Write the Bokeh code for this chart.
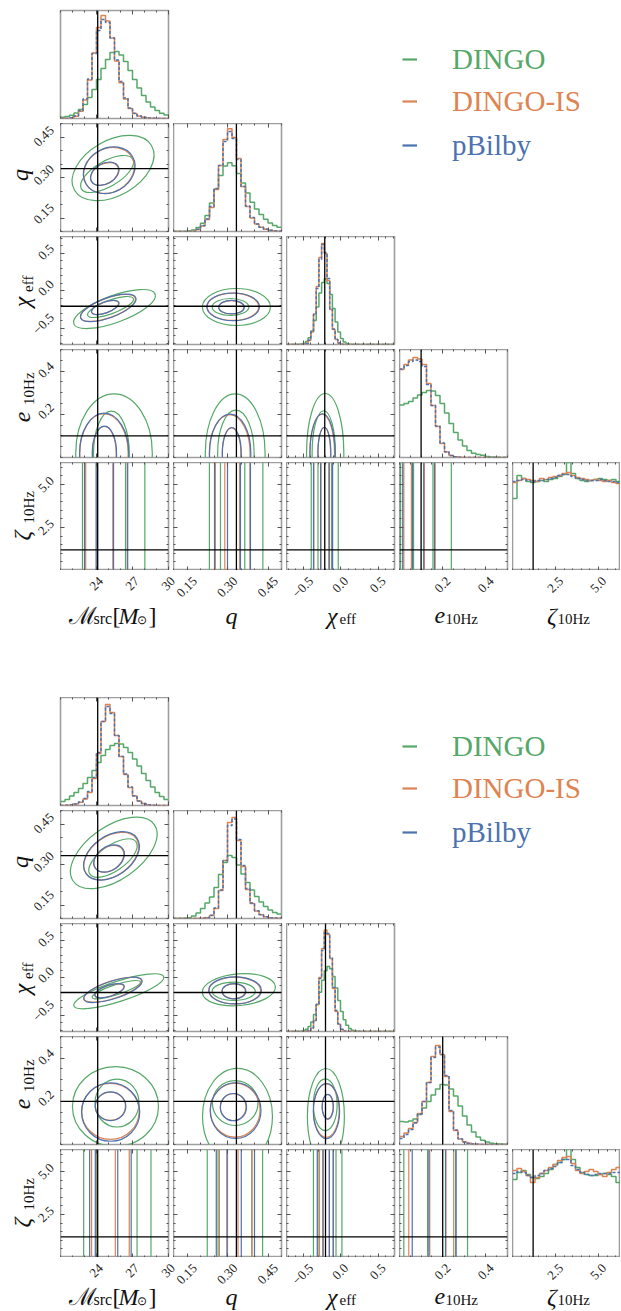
import math
import numpy as np
from bokeh.plotting import figure
from bokeh.layouts import row, column
from bokeh.models import (Range1d, LinearAxis, FixedTicker, Span,
                          Legend, LegendItem, CustomLabelingPolicy)
from bokeh.core.properties import value
from bokeh.embed import file_html
from bokeh.resources import INLINE

TWO_PI = 2 * math.pi

# ---------------- axes / parameters ----------------
PARAM_RANGES = [(21.0, 30.0), (0.10, 0.50), (-0.72, 0.72), (0.0, 0.50), (0.0, TWO_PI)]
MAJOR_TICKS = [[24, 27, 30], [0.15, 0.30, 0.45], [-0.5, 0.0, 0.5], [0.2, 0.4], [2.5, 5.0]]
TICK_TEXT = [["24", "27", "30"], ["0.15", "0.30", "0.45"], ["\u22120.5", "0.0", "0.5"],
             ["0.2", "0.4"], ["2.5", "5.0"]]
MINOR_STEP = [1.0, 0.05, 0.1, 0.05, 0.5]
SERIES = ["DINGO", "DINGO-IS", "pBilby"]
COLORS = ["#55A868", "#DD8452", "#4C72B0"]
HIST_TOP = 108.0

# ---------------- injected values (truths) ----------------
TRUTH_TOP = [24.1, 0.333, -0.21, 0.10, 1.2]
TRUTH_BOTTOM = [24.1, 0.333, -0.20, 0.20, 1.2]

# ---------------- 1D histograms, top corner ----------------
TOP_HIST_M_DINGO = [1.2, 2.0, 3.3, 5.5, 9.0, 14.0, 21.0, 29.0, 39.0, 50.0, 59.0, 66.0, 67.0, 63.5, 57.0, 48.0, 39.0, 30.5, 23.0, 16.5, 11.5, 8.0, 5.2, 3.4]
TOP_HIST_M_IS = [0.0, 0.1, 0.6, 2.3, 7.3, 18.6, 38.6, 65.6, 91.0, 103.0, 97.5, 80.4, 57.5, 35.8, 19.4, 10.0, 5.0, 2.5, 1.2, 0.6, 0.3, 0.1, 0.0, 0.0]
TOP_HIST_M_BILBY = [0.0, 0.1, 0.7, 2.5, 7.8, 19.5, 39.5, 65.0, 88.0, 99.0, 96.0, 80.5, 58.5, 37.0, 20.5, 10.5, 5.2, 2.6, 1.3, 0.6, 0.3, 0.1, 0.0, 0.0]

TOP_HIST_Q_DINGO = [0.0, 0.0, 0.1, 0.4, 1.6, 3.9, 8.2, 15.9, 28.4, 42.4, 56.0, 65.5, 68.7, 65.7, 58.0, 48.6, 38.6, 29.3, 22.6, 17.0, 12.2, 8.6, 6.0, 4.2]
TOP_HIST_Q_IS = [0.0, 0.0, 0.0, 0.0, 0.3, 2.0, 5.5, 12.0, 24.0, 42.0, 66.0, 92.0, 102.7, 94.0, 73.0, 45.0, 25.0, 13.5, 7.5, 4.2, 2.3, 1.2, 0.6, 0.3]
TOP_HIST_Q_BILBY = [0.0, 0.0, 0.0, 0.0, 0.3, 2.2, 6.0, 12.5, 25.0, 43.0, 66.0, 90.0, 100.0, 93.0, 72.0, 45.0, 25.5, 14.0, 7.5, 4.2, 2.3, 1.2, 0.6, 0.3]

TOP_HIST_CHI_DINGO = [0, 0, 0, 0, 0.1, 0.4, 1.1, 2.9, 6.7, 13.5, 24.0, 37.4, 51.6, 62.0, 65.7, 61.0, 50.0, 36.0, 22.6, 12.5,
                      6.1, 2.6, 1.0, 0.3, 0.1, 0, 0, 0, 0, 0, 0, 0, 0, 0, 0, 0, 0, 0, 0, 0]
TOP_HIST_CHI_IS = [0, 0, 0, 0, 0, 0, 0.2, 1.0, 4.0, 12.4, 30.5, 58.0, 87.0, 101.0, 91.0, 64.0, 35.0, 15.0, 5.0, 1.3,
                   0.3, 0, 0, 0, 0, 0, 0, 0, 0, 0, 0, 0, 0, 0, 0, 0, 0, 0, 0, 0]
TOP_HIST_CHI_BILBY = [0, 0, 0, 0, 0, 0, 0.2, 1.1, 4.2, 12.5, 30.0, 56.0, 85.0, 100.0, 92.0, 66.0, 36.0, 15.5, 5.2, 1.4,
                      0.3, 0, 0, 0, 0, 0, 0, 0, 0, 0, 0, 0, 0, 0, 0, 0, 0, 0, 0, 0]

TOP_HIST_E_DINGO = [52.5, 54.0, 56.0, 59.5, 62.5, 65.0, 67.0, 66.5, 62.0, 54.0, 44.5, 34.0, 25.0, 17.5, 11.5, 7.0, 4.2, 3.0, 2.2, 1.0, 0.5, 0.3, 0.1, 0.0]
TOP_HIST_E_IS = [88.0, 93.0, 97.5, 100.0, 98.5, 93.0, 74.0, 52.0, 31.0, 14.0, 5.5, 2.0, 0.7, 0.3, 0.1, 0, 0, 0, 0, 0, 0, 0, 0, 0]
TOP_HIST_E_BILBY = [88.5, 92.0, 96.0, 97.5, 96.0, 91.0, 73.0, 52.0, 31.5, 14.5, 5.8, 2.0, 0.7, 0.3, 0.1, 0, 0, 0, 0, 0, 0, 0, 0, 0]

TOP_HIST_Z_DINGO = [72, 95, 92, 89, 88, 89, 90, 89, 91, 92, 94, 96, 108, 97, 92, 90, 89, 90, 91, 92, 91, 90, 91, 89]
TOP_HIST_Z_IS = [88, 90, 92, 91, 90, 89, 92, 91, 93, 94, 95, 97, 98, 95, 93, 92, 91, 90, 91, 90, 89, 90, 88, 87]
TOP_HIST_Z_BILBY = [89, 90, 91, 90, 89, 90, 90, 91, 92, 93, 95, 96, 96, 94, 92, 91, 90, 90, 90, 91, 90, 89, 89, 88]

# ---------------- 2D credible contours, top corner: (x, y, width, height, angle_deg) ----------------
TOP_MQ_DINGO = [(25.38, 0.335, 7.42, 0.204, 30), (24.88, 0.313, 4.95, 0.094, 30)]
TOP_MQ_IS = [(25.04, 0.326, 4.42, 0.160, 30), (24.67, 0.313, 2.50, 0.074, 30)]
TOP_MQ_BILBY = [(25.06, 0.327, 4.50, 0.163, 30), (24.69, 0.314, 2.55, 0.076, 30)]

TOP_MCHI_DINGO = [(25.50, -0.247, 7.22, 0.360, 20), (25.17, -0.220, 4.06, 0.180, 20)]
TOP_MCHI_IS = [(24.96, -0.233, 4.83, 0.260, 20), (24.71, -0.227, 2.37, 0.143, 20)]
TOP_MCHI_BILBY = [(24.98, -0.232, 4.90, 0.265, 20), (24.73, -0.226, 2.42, 0.146, 20)]

TOP_QCHI_DINGO = [(0.333, -0.220, 0.252, 0.493, 0), (0.311, -0.220, 0.136, 0.227, 0)]
TOP_QCHI_IS = [(0.320, -0.217, 0.191, 0.364, 0), (0.314, -0.223, 0.093, 0.178, 0)]
TOP_QCHI_BILBY = [(0.321, -0.218, 0.195, 0.370, 0), (0.315, -0.222, 0.095, 0.180, 0)]

TOP_ME_DINGO = [(25.46, 0.02, 6.38, 0.550, 0), (25.24, 0.02, 2.98, 0.389, 0)]
TOP_ME_IS = [(24.62, 0.02, 4.03, 0.365, 0), (24.65, 0.02, 1.98, 0.247, 0)]
TOP_ME_BILBY = [(24.64, 0.02, 4.10, 0.370, 0), (24.66, 0.02, 2.02, 0.250, 0)]

TOP_QE_DINGO = [(0.3285, 0.02, 0.2215, 0.550, 0), (0.331, 0.02, 0.135, 0.398, 0)]
TOP_QE_IS = [(0.308, 0.02, 0.151, 0.358, 0), (0.315, 0.02, 0.069, 0.235, 0)]
TOP_QE_BILBY = [(0.310, 0.02, 0.153, 0.362, 0), (0.316, 0.02, 0.070, 0.238, 0)]

TOP_CHIE_DINGO = [(-0.204, 0.02, 0.497, 0.553, 0), (-0.223, 0.02, 0.311, 0.393, 0)]
TOP_CHIE_IS = [(-0.244, 0.02, 0.329, 0.361, 0), (-0.217, 0.02, 0.169, 0.238, 0)]
TOP_CHIE_BILBY = [(-0.240, 0.02, 0.335, 0.365, 0), (-0.215, 0.02, 0.172, 0.240, 0)]

# contour boundaries against the (flat) zeta direction: [outer lo, outer hi, inner lo, inner hi]
TOP_MZ_DINGO = [22.83, 28.03, 24.06, 26.42]
TOP_MZ_IS = [23.10, 26.56, 24.00, 25.36]
TOP_MZ_BILBY = [23.00, 26.60, 23.97, 25.42]
TOP_QZ_DINGO = [0.233, 0.431, 0.274, 0.364]
TOP_QZ_IS = [0.255, 0.383, 0.290, 0.345]
TOP_QZ_BILBY = [0.252, 0.385, 0.300, 0.348]
TOP_CHIZ_DINGO = [-0.39, -0.03, -0.30, -0.12]
TOP_CHIZ_IS = [-0.355, -0.11, -0.26, -0.155]
TOP_CHIZ_BILBY = [-0.36, -0.105, -0.265, -0.150]
TOP_EZ_DINGO = [0.005, 0.240, 0.065, 0.155]
TOP_EZ_IS = [0.020, 0.165, 0.055, 0.115]
TOP_EZ_BILBY = [0.015, 0.162, 0.060, 0.112]

# ---------------- 1D histograms, bottom corner ----------------
BOT_HIST_M_DINGO = [4.0, 6.0, 9.5, 13.0, 17.0, 22.0, 28.0, 35.0, 43.0, 50.0, 56.0, 60.0, 62.0, 61.5, 58.0, 53.0, 46.5, 39.5, 32.0, 25.0, 18.5, 13.0, 9.0, 6.0]
BOT_HIST_M_IS = [0.0, 0.2, 0.6, 1.5, 3.2, 6.5, 13.0, 27.0, 52.0, 84.0, 101.0, 93.0, 70.0, 49.0, 31.0, 18.0, 9.5, 4.5, 2.0, 0.8, 0.3, 0.1, 0.0, 0.0]
BOT_HIST_M_BILBY = [0.0, 0.2, 0.6, 1.6, 3.4, 7.0, 14.0, 28.0, 53.0, 84.0, 99.0, 92.0, 70.0, 49.0, 31.5, 18.5, 9.8, 4.6, 2.0, 0.8, 0.3, 0.1, 0.0, 0.0]

BOT_HIST_Q_DINGO = [0.0, 0.1, 0.3, 0.8, 2.5, 5.5, 10.0, 15.5, 21.5, 31.0, 44.0, 56.0, 63.0, 61.0, 53.5, 44.5, 36.0, 28.5, 22.0, 16.5, 12.0, 8.5, 6.0, 4.5]
BOT_HIST_Q_IS = [0.0, 0.0, 0.0, 0.0, 0.0, 0.0, 0.3, 0.8, 3.0, 10.0, 28.0, 58.0, 96.0, 101.0, 78.0, 52.0, 29.0, 15.0, 7.5, 3.8, 1.8, 0.8, 0.4, 0.2]
BOT_HIST_Q_BILBY = [0.0, 0.0, 0.0, 0.0, 0.0, 0.0, 0.3, 0.9, 3.2, 10.5, 28.5, 58.0, 93.0, 99.5, 79.0, 53.0, 30.0, 15.5, 7.8, 3.9, 1.8, 0.8, 0.4, 0.2]

BOT_HIST_CHI_DINGO = [0, 0, 0, 0, 0.1, 0.35, 0.9, 2.3, 4.9, 9.5, 17.0, 27.0, 39.3, 51.3, 60.7, 65.0, 62.8, 54.9, 43.4, 31.0,
                      20.0, 11.7, 6.2, 2.9, 1.3, 0.5, 0.2, 0, 0, 0, 0, 0, 0, 0, 0, 0, 0, 0, 0, 0]
BOT_HIST_CHI_IS = [0, 0, 0, 0, 0, 0, 0, 0.2, 0.8, 3.4, 10.9, 27.0, 54.0, 83.0, 101.5, 97.0, 73.0, 43.0, 20.0, 7.3,
                   2.1, 0.5, 0.1, 0, 0, 0, 0, 0, 0, 0, 0, 0, 0, 0, 0, 0, 0, 0, 0, 0]
BOT_HIST_CHI_BILBY = [0, 0, 0, 0, 0, 0, 0, 0.2, 0.9, 3.6, 11.0, 27.0, 53.0, 81.0, 99.0, 98.0, 74.0, 44.0, 21.0, 7.8,
                      2.3, 0.6, 0.1, 0, 0, 0, 0, 0, 0, 0, 0, 0, 0, 0, 0, 0, 0, 0, 0, 0]

BOT_HIST_E_DINGO = [23.0, 22.5, 23.5, 25.5, 30.0, 36.5, 43.0, 49.5, 55.5, 60.0, 59.5, 55.5, 48.5, 38.5, 28.5, 19.5, 12.5, 7.5, 4.2, 2.4, 1.3, 0.7, 0.4, 0.2]
BOT_HIST_E_IS = [8.0, 11.5, 16.0, 22.0, 31.0, 43.0, 62.0, 88.0, 99.0, 90.0, 68.0, 33.0, 14.0, 5.5, 2.5, 1.2, 0.5, 0.2, 0.1, 0, 0, 0, 0, 0]
BOT_HIST_E_BILBY = [6.0, 10.0, 15.0, 21.5, 30.5, 43.0, 62.0, 87.0, 97.5, 90.0, 69.0, 34.0, 14.5, 5.7, 2.5, 1.2, 0.5, 0.2, 0.1, 0, 0, 0, 0, 0]

BOT_HIST_Z_DINGO = [78, 85, 87, 83, 80, 79, 81, 84, 88, 93, 95, 98, 109, 98, 90, 85, 83, 82, 82, 83, 84, 83, 81, 75]
BOT_HIST_Z_IS = [87, 89, 86, 82, 75, 80, 84, 87, 90, 93, 97, 100, 101, 94, 87, 84, 86, 88, 86, 83, 81, 85, 88, 90]
BOT_HIST_Z_BILBY = [84, 86, 85, 82, 80, 82, 84, 87, 89, 91, 95, 98, 98, 92, 88, 85, 83, 82, 83, 84, 84, 84, 85, 85]

# ---------------- 2D credible contours, bottom corner ----------------
BOT_MQ_DINGO = [(25.44, 0.343, 8.24, 0.197, 35), (25.375, 0.324, 4.70, 0.094, 35)]
BOT_MQ_IS = [(25.23, 0.331, 5.10, 0.145, 35), (25.03, 0.321, 2.74, 0.085, 35)]
BOT_MQ_BILBY = [(25.25, 0.332, 5.18, 0.148, 35), (25.05, 0.322, 2.80, 0.087, 35)]

BOT_MCHI_DINGO = [(25.86, -0.184, 7.87, 0.270, 18), (25.65, -0.163, 4.23, 0.135, 18)]
BOT_MCHI_IS = [(25.35, -0.163, 5.03, 0.233, 18), (25.07, -0.177, 2.52, 0.146, 18)]
BOT_MCHI_BILBY = [(25.37, -0.165, 5.10, 0.236, 18), (25.09, -0.176, 2.56, 0.148, 18)]

BOT_QCHI_DINGO = [(0.342, -0.163, 0.2715, 0.422, 5), (0.323, -0.184, 0.160, 0.244, 0)]
BOT_QCHI_IS = [(0.327, -0.173, 0.191, 0.356, 0), (0.323, -0.184, 0.0864, 0.200, 0)]
BOT_QCHI_BILBY = [(0.328, -0.172, 0.195, 0.360, 0), (0.324, -0.183, 0.088, 0.204, 0)]

BOT_ME_DINGO = [(25.58, 0.176, 7.17, 0.370, 0), (25.71, 0.192, 3.67, 0.222, 0)]
BOT_ME_IS = [(25.16, 0.153, 4.78, 0.259, 0), (25.16, 0.177, 2.50, 0.130, 0)]
BOT_ME_BILBY = [(25.18, 0.150, 4.85, 0.270, 0), (25.17, 0.177, 2.55, 0.133, 0)]

BOT_QE_DINGO = [(0.337, 0.130, 0.259, 0.444, 0), (0.3285, 0.192, 0.169, 0.208, 0)]
BOT_QE_IS = [(0.3285, 0.159, 0.184, 0.250, 0), (0.321, 0.173, 0.095, 0.124, 0)]
BOT_QE_BILBY = [(0.330, 0.157, 0.188, 0.258, 0), (0.322, 0.173, 0.097, 0.126, 0)]

BOT_CHIE_DINGO = [(-0.195, 0.130, 0.493, 0.444, 0), (-0.203, 0.184, 0.317, 0.239, 0)]
BOT_CHIE_IS = [(-0.189, 0.157, 0.343, 0.247, 0), (-0.171, 0.175, 0.147, 0.113, 0)]
BOT_CHIE_BILBY = [(-0.187, 0.155, 0.350, 0.255, 0), (-0.170, 0.175, 0.150, 0.115, 0)]

BOT_MZ_DINGO = [22.93, 28.54, 24.00, 27.38]
BOT_MZ_IS = [23.59, 26.73, 23.95, 25.57]
BOT_MZ_BILBY = [23.43, 26.89, 23.90, 25.77]
BOT_QZ_DINGO = [0.225, 0.430, 0.265, 0.390]
BOT_QZ_IS = [0.270, 0.391, 0.300, 0.339]
BOT_QZ_BILBY = [0.2585, 0.400, 0.298, 0.351]
BOT_CHIZ_DINGO = [-0.361, 0.019, -0.30, -0.06]
BOT_CHIZ_IS = [-0.28, -0.097, -0.23, -0.15]
BOT_CHIZ_BILBY = [-0.31, -0.097, -0.235, -0.148]
BOT_EZ_DINGO = [0.020, 0.315, 0.130, 0.260]
BOT_EZ_IS = [0.043, 0.251, 0.140, 0.215]
BOT_EZ_BILBY = [0.059, 0.262, 0.136, 0.213]

# ---------------- layout constants (pixels) ----------------
FRAME = 108
GAP = 5
STRIP_W = 60          # left strip: y titles + y tick labels
TOTAL_W = 620
LEGEND_VY = [159, 117, 73]
FONT = "Liberation Serif"
TICK_SIZE = 13
YTICK_RIGHT = 56      # right edge of the y tick labels
XTICK_TOP = 4         # gap between frame bottom and x tick labels
CHAR_W = {".": 0.25, "\u2212": 0.564}

# x titles: (text, page x, baseline shift, size, italic)
XTITLE_PIECES = [
    ("\u2133", 68, 0, 24, False), ("src", 93, -3, 16, False),
    ("[", 112, 0, 24, False), ("M", 118, 0, 24, True),
    ("\u2299", 136, -4, 12, False), ("]", 148, 0, 24, False),
    ("q", 225, 0, 24, True),
    ("\u03c7", 326.5, 0, 24, True), ("eff", 339, -3, 15, False),
    ("e", 434, 0, 24, True), ("10Hz", 445, -3, 15, False),
    ("\u03b6", 546.5, 0, 24, True), ("10Hz", 557, -3, 15, False),
]
# y titles per row, rotated: (text, x of the glyph-box middle, start y above strip bottom, size, italic)
YTITLE_PIECES = {
    1: [("q", 19, 59, 24, True)],
    2: [("\u03c7", 21, 39, 24, True), ("eff", 27, 55, 15, False)],
    3: [("e", 22, 37, 24, True), ("10Hz", 28, 55, 15, False)],
    4: [("\u03b6", 21, 30, 24, True), ("10Hz", 28, 47, 15, False)],
}

HIDE_LABELS_JS = """
try { for (const i of [...indices.ones()]) { indices.unset(i) } } catch (e) {}
return indices
"""


def minor_ticks(c):
    lo, hi = PARAM_RANGES[c]
    step = MINOR_STEP[c]
    k0 = math.ceil(lo / step - 1e-9)
    k1 = math.floor(hi / step + 1e-9)
    return [round(k * step, 6) for k in range(k0, k1 + 1)]


def rotated_box(label):
    w = TICK_SIZE * sum(CHAR_W.get(ch, 0.5) for ch in label)
    return (w + TICK_SIZE) / math.sqrt(2)


def make_axis(c):
    ax = LinearAxis(ticker=FixedTicker(ticks=MAJOR_TICKS[c], minor_ticks=minor_ticks(c)))
    ax.axis_line_color = None
    ax.major_tick_in = 4
    ax.major_tick_out = 0
    ax.minor_tick_in = 2
    ax.minor_tick_out = 0
    ax.major_tick_line_color = "#555555"
    ax.minor_tick_line_color = "#555555"
    ax.major_tick_line_width = 1
    ax.minor_tick_line_width = 1
    ax.major_label_text_font_size = "0px"
    ax.major_label_standoff = 0
    ax.major_label_policy = CustomLabelingPolicy(code=HIDE_LABELS_JS)
    return ax


def make_panel(r, c, top_b):
    L = STRIP_W if (r == 0 and c == 0) else 0
    R = GAP if c < 4 else 0
    B = 0 if r == 4 else GAP
    yr = (0.0, HIST_TOP) if r == c else PARAM_RANGES[r]
    p = figure(width=L + FRAME + R, height=top_b + FRAME + B,
               x_range=Range1d(*PARAM_RANGES[c]), y_range=Range1d(*yr),
               x_axis_type=None, y_axis_type=None,
               toolbar_location=None, output_backend="svg",
               min_border_left=L, min_border_right=R,
               min_border_top=top_b, min_border_bottom=B)
    p.outline_line_color = "#9e9e9e"
    p.outline_line_width = 1.6
    p.background_fill_color = "white"
    p.border_fill_color = "white"
    p.add_layout(make_axis(c), "below")
    p.add_layout(make_axis(c), "above")
    if r != c:
        p.add_layout(make_axis(r), "left")
        p.add_layout(make_axis(r), "right")
    return p


def draw_hist(p, c, series_vals):
    lo, hi = PARAM_RANGES[c]
    for vals, col, dash in zip(series_vals, COLORS, ["solid", "solid", "3 2"]):
        edges = np.linspace(lo, hi, len(vals) + 1)
        p.step(x=edges, y=list(vals) + [vals[-1]], mode="after",
               line_color=col, line_width=1.5, line_dash=dash)


def draw_ellipses(p, series_ells):
    for ells, col in zip(series_ells, COLORS):
        p.ellipse(x=[e[0] for e in ells], y=[e[1] for e in ells],
                  width=[e[2] for e in ells], height=[e[3] for e in ells],
                  angle=[e[4] for e in ells], angle_units="deg",
                  fill_color=None, line_color=col, line_width=1.2)


def draw_bands(p, r, series_bands):
    lo, hi = PARAM_RANGES[r]
    for xs, col in zip(series_bands, COLORS):
        p.segment(x0=xs, y0=[lo] * len(xs), x1=xs, y1=[hi] * len(xs),
                  line_color=col, line_width=1.2)


def blank(w, h):
    p = figure(width=w, height=h, x_range=Range1d(0, w), y_range=Range1d(0, h),
               x_axis_type=None, y_axis_type=None, toolbar_location=None,
               output_backend="svg", min_border=0)
    p.outline_line_color = None
    p.background_fill_color = "white"
    p.border_fill_color = "white"
    return p


def put_text(p, t, x, y, size, italic, angle=0.0, align="left", baseline="alphabetic",
             color="#111111", **kw):
    p.text(x=[x], y=[y], text=[t], angle=angle,
           text_font=value(FONT), text_font_size=value(f"{size}px"),
           text_font_style=value("italic" if italic else "normal"),
           text_align=value(align), text_baseline=value(baseline),
           text_color=color, **kw)


def left_strip(r, h):
    s = blank(STRIP_W, h)
    lo, hi = PARAM_RANGES[r]
    span = hi - lo
    s.extra_y_ranges = {"par": Range1d(lo - (h - FRAME) * span / FRAME, hi)}
    for t, lab in zip(MAJOR_TICKS[r], TICK_TEXT[r]):
        put_text(s, lab, YTICK_RIGHT - rotated_box(lab) / 2, t, TICK_SIZE, False,
                 angle=math.pi / 4, align="center", baseline="middle",
                 color="#222222", y_range_name="par")
    for (t, x, y, size, it) in YTITLE_PIECES[r]:
        put_text(s, t, x, y, size, it, angle=math.pi / 2,
                 align="center" if t == "q" else "left", baseline="middle")
    return s


def bottom_strip(h, baseline):
    s = blank(TOTAL_W, h)
    ranges = {}
    for c in range(5):
        lo, hi = PARAM_RANGES[c]
        span = hi - lo
        x0 = STRIP_W + c * (FRAME + GAP)
        ranges[f"c{c}"] = Range1d(lo - x0 * span / FRAME, lo + (TOTAL_W - x0) * span / FRAME)
    s.extra_x_ranges = ranges
    for c in range(5):
        for t, lab in zip(MAJOR_TICKS[c], TICK_TEXT[c]):
            put_text(s, lab, t, h - XTICK_TOP - rotated_box(lab) / 2, TICK_SIZE, False,
                     angle=math.pi / 4, align="center", baseline="middle",
                     color="#222222", x_range_name=f"c{c}")
    for (t, x, dy, size, it) in XTITLE_PIECES:
        put_text(s, t, x, baseline + dy, size, it)
    return s


def make_legend(w, h):
    lg = blank(w, h)
    for name, col, vy in zip(SERIES, COLORS, LEGEND_VY):
        rr = lg.line(x=[float("nan")], y=[float("nan")], line_color=col, line_width=2.2)
        leg = Legend(items=[LegendItem(label=name, renderers=[rr])], location=(116, vy),
                     orientation="vertical", padding=0, margin=0, spacing=0,
                     glyph_width=15, glyph_height=36, label_height=36, label_standoff=35,
                     label_text_font=FONT, label_text_font_size="29px",
                     label_text_color=col, border_line_color=None,
                     background_fill_alpha=0)
        lg.add_layout(leg)
    return lg


def build_corner(hists, ells, bands, truth, top_b, strip_h, title_baseline):
    figs = {}
    for r in range(5):
        for c in range(r + 1):
            p = make_panel(r, c, top_b if r == 0 else 0)
            if r == c:
                draw_hist(p, c, hists[c])
            elif r == 4:
                draw_bands(p, r, bands[c])
            else:
                draw_ellipses(p, ells[(r, c)])
            p.add_layout(Span(location=truth[c], dimension="height",
                              line_color="black", line_width=1.3))
            if r != c:
                p.add_layout(Span(location=truth[r], dimension="width",
                                  line_color="black", line_width=1.3))
            figs[(r, c)] = p
    row_h = {1: FRAME + GAP, 2: FRAME + GAP, 3: FRAME + GAP, 4: FRAME}
    strips = {r: left_strip(r, row_h[r]) for r in range(1, 5)}
    left = column(figs[(0, 0)], row(strips[1], figs[(1, 0)], figs[(1, 1)]))
    left_w = STRIP_W + FRAME + GAP + FRAME + GAP
    lg = make_legend(TOTAL_W - left_w, top_b + FRAME + GAP + FRAME + GAP)
    return column(row(left, lg),
                  row(strips[2], *[figs[(2, c)] for c in range(3)]),
                  row(strips[3], *[figs[(3, c)] for c in range(4)]),
                  row(strips[4], *[figs[(4, c)] for c in range(5)]),
                  bottom_strip(strip_h, title_baseline))


top_hists = {
    0: (TOP_HIST_M_DINGO, TOP_HIST_M_IS, TOP_HIST_M_BILBY),
    1: (TOP_HIST_Q_DINGO, TOP_HIST_Q_IS, TOP_HIST_Q_BILBY),
    2: (TOP_HIST_CHI_DINGO, TOP_HIST_CHI_IS, TOP_HIST_CHI_BILBY),
    3: (TOP_HIST_E_DINGO, TOP_HIST_E_IS, TOP_HIST_E_BILBY),
    4: (TOP_HIST_Z_DINGO, TOP_HIST_Z_IS, TOP_HIST_Z_BILBY),
}
top_ells = {
    (1, 0): (TOP_MQ_DINGO, TOP_MQ_IS, TOP_MQ_BILBY),
    (2, 0): (TOP_MCHI_DINGO, TOP_MCHI_IS, TOP_MCHI_BILBY),
    (2, 1): (TOP_QCHI_DINGO, TOP_QCHI_IS, TOP_QCHI_BILBY),
    (3, 0): (TOP_ME_DINGO, TOP_ME_IS, TOP_ME_BILBY),
    (3, 1): (TOP_QE_DINGO, TOP_QE_IS, TOP_QE_BILBY),
    (3, 2): (TOP_CHIE_DINGO, TOP_CHIE_IS, TOP_CHIE_BILBY),
}
top_bands = {
    0: (TOP_MZ_DINGO, TOP_MZ_IS, TOP_MZ_BILBY),
    1: (TOP_QZ_DINGO, TOP_QZ_IS, TOP_QZ_BILBY),
    2: (TOP_CHIZ_DINGO, TOP_CHIZ_IS, TOP_CHIZ_BILBY),
    3: (TOP_EZ_DINGO, TOP_EZ_IS, TOP_EZ_BILBY),
}
bot_hists = {
    0: (BOT_HIST_M_DINGO, BOT_HIST_M_IS, BOT_HIST_M_BILBY),
    1: (BOT_HIST_Q_DINGO, BOT_HIST_Q_IS, BOT_HIST_Q_BILBY),
    2: (BOT_HIST_CHI_DINGO, BOT_HIST_CHI_IS, BOT_HIST_CHI_BILBY),
    3: (BOT_HIST_E_DINGO, BOT_HIST_E_IS, BOT_HIST_E_BILBY),
    4: (BOT_HIST_Z_DINGO, BOT_HIST_Z_IS, BOT_HIST_Z_BILBY),
}
bot_ells = {
    (1, 0): (BOT_MQ_DINGO, BOT_MQ_IS, BOT_MQ_BILBY),
    (2, 0): (BOT_MCHI_DINGO, BOT_MCHI_IS, BOT_MCHI_BILBY),
    (2, 1): (BOT_QCHI_DINGO, BOT_QCHI_IS, BOT_QCHI_BILBY),
    (3, 0): (BOT_ME_DINGO, BOT_ME_IS, BOT_ME_BILBY),
    (3, 1): (BOT_QE_DINGO, BOT_QE_IS, BOT_QE_BILBY),
    (3, 2): (BOT_CHIE_DINGO, BOT_CHIE_IS, BOT_CHIE_BILBY),
}
bot_bands = {
    0: (BOT_MZ_DINGO, BOT_MZ_IS, BOT_MZ_BILBY),
    1: (BOT_QZ_DINGO, BOT_QZ_IS, BOT_QZ_BILBY),
    2: (BOT_CHIZ_DINGO, BOT_CHIZ_IS, BOT_CHIZ_BILBY),
    3: (BOT_EZ_DINGO, BOT_EZ_IS, BOT_EZ_BILBY),
}

# top corner: frames start at y=10; its bottom strip is 127 px tall
corner_top = build_corner(top_hists, top_ells, top_bands, TRUTH_TOP, 10, 127, 82)
# bottom corner starts at y=697; its bottom strip is 54 px tall
corner_bot = build_corner(bot_hists, bot_ells, bot_bands, TRUTH_BOTTOM, 0, 54, 15)
layout = column(corner_top, corner_bot)

open("out.html", "w").write(file_html(layout, INLINE, "corner"))
